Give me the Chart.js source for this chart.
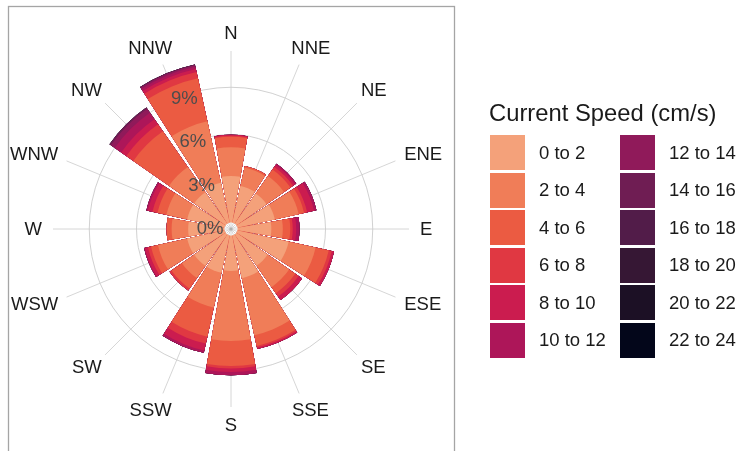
<!DOCTYPE html>
<html>
<head>
<meta charset="utf-8">
<script src="https://cdn.jsdelivr.net/npm/chart.js@4.4.1/dist/chart.umd.min.js"></script>
<style>
  body { margin: 0; background: #fff; font-family: "Liberation Sans", Arial, sans-serif; }
  #wrap { position: relative; width: 740px; height: 451px; overflow: hidden; }
  #rose { position: absolute; left: 0; top: 0; }
  #legend-title { position: absolute; left: 489px; top: 99px; font-size: 23.8px; line-height: 28px; color: #1a1a1a; white-space: nowrap; }
  #legend-items { position: absolute; left: 490px; top: 135px; display: grid; grid-template-columns: 130px 130px; grid-template-rows: repeat(6, 37.5px); grid-auto-flow: column; }
  .item { display: flex; align-items: center; height: 35px; }
  .swatch { width: 35px; height: 35px; }
  .item span { margin-left: 14px; font-size: 18.5px; color: #1a1a1a; white-space: nowrap; }
</style>
</head>
<body>
<div id="wrap">
  <canvas id="rose" width="740" height="451"></canvas>
  <div id="legend-title">Current Speed (cm/s)</div>
  <div id="legend-items"></div>
</div>
<script>
// directions, clockwise from north
const directions = ["N", "NNE", "NE", "ENE", "E", "ESE", "SE", "SSE", "S", "SSW", "SW", "WSW", "W", "WNW", "NW", "NNW"];

// speed bands (cm/s) and their colours
const speedBands = ["0 to 2", "2 to 4", "4 to 6", "6 to 8", "8 to 10", "10 to 12",
                    "12 to 14", "14 to 16", "16 to 18", "18 to 20", "20 to 22", "22 to 24"];
const bandColors = ["#f4a17a", "#f07d58", "#eb5b42", "#e03842", "#cb1c4f", "#ad1659",
                    "#901a5a", "#6f1d53", "#521c49", "#361734", "#1c1025", "#03061a"];

// frequency (%) of each band per direction, N..NNW
const band0to2   = [3.37, 2.80, 2.75, 2.85, 2.56, 3.75, 2.84, 3.20, 2.66, 2.85, 2.85, 2.85, 2.72, 2.85, 2.85, 3.00];
const band2to4   = [1.82, 1.20, 1.35, 1.55, 0.73, 1.75, 1.66, 3.70, 4.45, 2.25, 0.95, 1.90, 1.05, 1.35, 1.95, 4.00];
const band4to6   = [0.67, 0.10, 0.50, 0.35, 0.47, 0.85, 0.47, 0.70, 1.59, 1.90, 0.80, 0.45, 0.32, 0.58, 2.76, 2.80];
const band6to8   = [0.06, 0.00, 0.20, 0.20, 0.16, 0.20, 0.26, 0.10, 0.16, 0.45, 0.15, 0.20, 0.00, 0.32, 0.54, 0.40];
const band8to10  = [0.07, 0.00, 0.15, 0.45, 0.22, 0.15, 0.27, 0.10, 0.22, 0.45, 0.00, 0.20, 0.00, 0.30, 0.40, 0.20];
const band10to12 = [0.00, 0.00, 0.10, 0.15, 0.21, 0.00, 0.00, 0.00, 0.20, 0.15, 0.00, 0.05, 0.00, 0.10, 0.50, 0.15];
const band12to14 = [0, 0, 0, 0, 0, 0, 0, 0, 0, 0, 0, 0, 0, 0, 0.30, 0.10];
const band14to16 = [0, 0, 0, 0, 0, 0, 0, 0, 0, 0, 0, 0, 0, 0, 0.10, 0.05];
const band16to18 = [0, 0, 0, 0, 0, 0, 0, 0, 0, 0, 0, 0, 0, 0, 0, 0];
const band18to20 = [0, 0, 0, 0, 0, 0, 0, 0, 0, 0, 0, 0, 0, 0, 0, 0];
const band20to22 = [0, 0, 0, 0, 0, 0, 0, 0, 0, 0, 0, 0, 0, 0, 0, 0];
const band22to24 = [0, 0, 0, 0, 0, 0, 0, 0, 0, 0, 0, 0, 0, 0, 0, 0];

// radial axis
const tickValues = [0, 3, 6, 9];
const tickLabels = ["0%", "3%", "6%", "9%"];
const radialMax = 12;

const bandValues = [band0to2, band2to4, band4to6, band6to8, band8to10, band10to12,
                    band12to14, band14to16, band16to18, band18to20, band20to22, band22to24];

const barAngle = 20.25;   // degrees per bar
const gapAngle = 2.25;    // white gap between bars

// each direction gets a bar slot followed by an empty gap slot
const slotLabels = [];
directions.forEach(d => { slotLabels.push(d, ""); });

// stack the bands: dataset b is the running total up to band b,
// drawn under the smaller totals (dataset 0 ends on top)
const running = directions.map(() => 0);
const datasets = bandValues.map((vals, b) => {
  vals.forEach((v, i) => { running[i] += v; });
  const data = [];
  running.forEach(v => { data.push(+v.toFixed(3), 0); });
  return {
    label: speedBands[b],
    data: data,
    backgroundColor: bandColors[b],
    borderWidth: 0,
    angle: c => (c.dataIndex % 2 === 0 ? barAngle : gapAngle)
  };
});

// angle (canvas radians) of the middle of direction i
function dirAngle(s, i) {
  return s.getIndexAngle(2 * i) + barAngle / 2 * Math.PI / 180 - Math.PI / 2;
}

const roseDecor = {
  id: "roseDecor",
  beforeDraw(chart) {
    // panel frame
    const ctx = chart.ctx;
    ctx.save();
    ctx.strokeStyle = "#a5a5a5";
    ctx.lineWidth = 1.3;
    ctx.strokeRect(8.5, 6.5, 446, 470);
    ctx.restore();
  },
  beforeDatasetsDraw(chart) {
    // spokes through the middle of each direction
    const s = chart.scales.r;
    const ctx = chart.ctx;
    const len = s.drawingArea - 11;
    ctx.save();
    ctx.strokeStyle = "#cccccc";
    ctx.lineWidth = 0.8;
    directions.forEach((d, i) => {
      const a = dirAngle(s, i);
      ctx.beginPath();
      ctx.moveTo(s.xCenter, s.yCenter);
      ctx.lineTo(s.xCenter + Math.cos(a) * len, s.yCenter + Math.sin(a) * len);
      ctx.stroke();
    });
    ctx.restore();
  },
  afterDatasetsDraw(chart) {
    const s = chart.scales.r;
    const ctx = chart.ctx;
    const cx = s.xCenter, cy = s.yCenter;
    ctx.save();

    // small hub in the middle
    const hub = 6.5;
    ctx.fillStyle = "#ffffff";
    ctx.beginPath();
    ctx.arc(cx, cy, hub, 0, Math.PI * 2);
    ctx.fill();
    ctx.strokeStyle = "#cccccc";
    ctx.lineWidth = 0.8;
    directions.forEach((d, i) => {
      const a = dirAngle(s, i);
      ctx.beginPath();
      ctx.moveTo(cx, cy);
      ctx.lineTo(cx + Math.cos(a) * hub, cy + Math.sin(a) * hub);
      ctx.stroke();
    });
    ctx.fillStyle = "#b0b0b0";
    ctx.beginPath();
    ctx.arc(cx, cy, 1.6, 0, Math.PI * 2);
    ctx.fill();

    // percentage labels along the N/NNW boundary
    ctx.font = '18.5px "Liberation Sans", Arial, sans-serif';
    ctx.fillStyle = "#4d4d4d";
    ctx.textAlign = "right";
    ctx.textBaseline = "middle";
    const axisA = s.getIndexAngle(0) - Math.PI / 2 - (gapAngle / 2) * Math.PI / 180;
    tickValues.forEach((v, i) => {
      const r = s.getDistanceFromCenterForValue(v) * 0.935;
      ctx.fillText(tickLabels[i], cx + Math.cos(axisA) * r - 7.5, cy + Math.sin(axisA) * r);
    });

    // direction labels, pushed out so their near edge sits on the ring
    ctx.fillStyle = "#1a1a1a";
    ctx.textAlign = "center";
    const lr = s.drawingArea;
    const th = 14;
    directions.forEach((d, i) => {
      const a = dirAngle(s, i);
      const w = ctx.measureText(d).width;
      const x = cx + Math.cos(a) * lr + Math.cos(a) * w / 2;
      const y = cy + Math.sin(a) * lr + Math.sin(a) * th / 2;
      ctx.fillText(d, x, y + 0.5);
    });
    ctx.restore();
  }
};

new Chart(document.getElementById("rose"), {
  type: "polarArea",
  data: { labels: slotLabels, datasets: datasets },
  options: {
    responsive: false,
    animation: false,
    events: [],
    layout: { padding: { left: 42, top: 40, right: 320, bottom: 33 } },
    plugins: { legend: { display: false }, tooltip: { enabled: false } },
    scales: {
      r: {
        min: 0,
        max: radialMax,
        startAngle: -barAngle / 2,
        ticks: { stepSize: 3, display: false },
        grid: {
          color: c => (c.tick && c.tick.value >= radialMax ? "rgba(0,0,0,0)" : "#cccccc"),
          lineWidth: 0.9
        },
        angleLines: { display: false },
        pointLabels: { display: false }
      }
    }
  },
  plugins: [roseDecor]
});

// legend, two columns of six
const legendItems = document.getElementById("legend-items");
speedBands.forEach((name, b) => {
  const el = document.createElement("div");
  el.className = "item";
  el.innerHTML = `<div class="swatch" style="background:${bandColors[b]}"></div><span>${name}</span>`;
  legendItems.appendChild(el);
});
</script>
</body>
</html>
